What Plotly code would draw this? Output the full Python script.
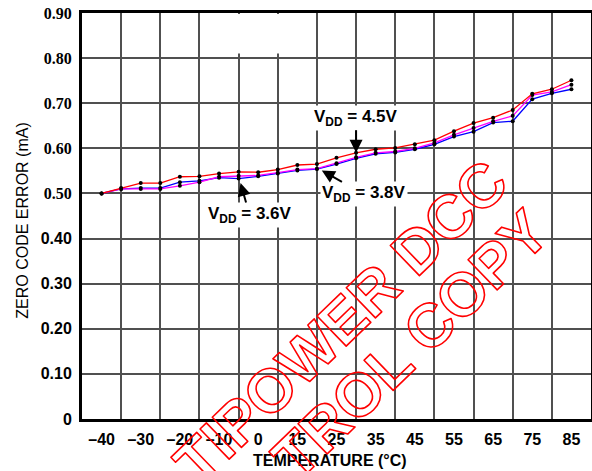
import plotly.graph_objects as go

# ---- data ----
TEMPS = ["-40", "-35", "-30", "-25", "-20", "-15", "-10", "-5", "0", "10", "15", "20",
         "25", "30", "35", "40", "45", "50", "55", "60", "65", "70", "75", "80", "85"]
TICK_LABELS = ["–40", "–30", "–20", "–10", "0", "15", "25", "35", "45", "55", "65", "75", "85"]
VDD_45 = [0.500, 0.512, 0.523, 0.523, 0.537, 0.538, 0.544, 0.548, 0.547, 0.553, 0.563, 0.565,
          0.579, 0.590, 0.598, 0.601, 0.609, 0.618, 0.638, 0.656, 0.668, 0.685, 0.721, 0.731, 0.751]
VDD_38 = [0.500, 0.510, 0.510, 0.510, 0.517, 0.525, 0.537, 0.539, 0.540, 0.546, 0.553, 0.555,
          0.567, 0.580, 0.590, 0.593, 0.600, 0.612, 0.630, 0.645, 0.660, 0.672, 0.718, 0.725, 0.741]
VDD_36 = [0.500, 0.510, 0.512, 0.512, 0.525, 0.528, 0.535, 0.533, 0.538, 0.544, 0.551, 0.554,
          0.565, 0.578, 0.588, 0.591, 0.598, 0.609, 0.626, 0.637, 0.657, 0.660, 0.709, 0.722, 0.731]
Y_TICKS = [0, 0.1, 0.2, 0.3, 0.4, 0.5, 0.6, 0.7, 0.8, 0.9]
Y_TICK_LABELS = ["0", "0.10", "0.20", "0.30", "0.40", "0.50", "0.60", "0.70", "0.80", "0.90"]

FONT = "Liberation Sans, Arial, sans-serif"
SERIF = "Liberation Serif"
GRID = "#505050"

x_pos = list(range(len(TEMPS)))  # category positions

fig = go.Figure()
for vals, col, name in [(VDD_36, "#0000FF", "VDD = 3.6V"),
                        (VDD_38, "#FF00FF", "VDD = 3.8V"),
                        (VDD_45, "#FF0000", "VDD = 4.5V")]:
    fig.add_trace(go.Scatter(
        x=x_pos, y=vals, mode="lines+markers", name=name,
        text=TEMPS, hovertemplate="%{text} °C: %{y:.3f} mA<extra>" + name + "</extra>",
        line=dict(color=col, width=1.3),
        marker=dict(color="black", size=4, symbol="circle"),
    ))

ytext = [("<span style=\"font-family:%s\">%s</span>" % (SERIF, t)) if v >= 0.45 else t
         for v, t in zip(Y_TICKS, Y_TICK_LABELS)]

fig.update_layout(
    width=592, height=471,
    margin=dict(l=82, r=1, t=13, b=52),
    paper_bgcolor="white", plot_bgcolor="white",
    showlegend=False,
    font=dict(family=FONT, color="black"),
    xaxis=dict(
        range=[-1, 25], showgrid=False, zeroline=False, automargin=False,
        tickmode="array", tickvals=x_pos[::2], ticktext=TICK_LABELS,
        tickfont=dict(size=16, family=FONT, weight="bold"),
        ticks="", ticklabelstandoff=4,
        showline=True, linecolor="black", linewidth=3, mirror=True,
        minor=dict(tickmode="array", tickvals=x_pos[1::2], showgrid=True,
                   gridcolor=GRID, gridwidth=1.5, ticks=""),
    ),
    yaxis=dict(
        range=[0, 0.9], tickmode="array", tickvals=Y_TICKS, ticktext=ytext,
        showgrid=True, gridcolor=GRID, gridwidth=1.5, zeroline=False, automargin=False,
        tickfont=dict(size=16, family=FONT, weight="bold"),
        ticks="", ticklabelstandoff=4,
        showline=True, linecolor="black", linewidth=3, mirror=True,
    ),
)

# blank patch at top (grid removed in reference)
fig.add_shape(type="rect", xref="x", yref="y", x0=5.9, x1=9.2, y0=0.81, y1=0.898,
              fillcolor="white", line=dict(width=0), layer="between")

arrow_common = dict(showarrow=True, arrowhead=2, arrowsize=1.3, arrowwidth=2,
                    arrowcolor="black", bgcolor="white",
                    font=dict(size=17, family=FONT, color="black"))
fig.add_annotation(x=13, y=VDD_45[13], ax=0, ay=-35,
                   text="<b>V<sub>DD</sub> = 4.5V</b>", **arrow_common)
fig.add_annotation(x=11.25, y=0.551, ax=42, ay=24,
                   text="<b>V<sub>DD</sub> = 3.8V</b>", **arrow_common)
fig.add_annotation(x=7.1, y=0.523, ax=9, ay=32,
                   text="<b>V<sub>DD</sub> = 3.6V</b>", **arrow_common)

# axis titles
fig.add_annotation(xref="paper", yref="paper", x=0.488, y=-0.103, showarrow=False,
                   text="<b>TEMPERATURE (°C)</b>", font=dict(size=16, family=FONT),
                   xanchor="center", yanchor="middle")
fig.add_annotation(xref="paper", yref="paper", x=-0.1165, y=0.4877, showarrow=False,
                   text="ZERO CODE ERROR (mA)", textangle=-90,
                   font=dict(size=16, family=FONT),
                   xanchor="center", yanchor="middle")

# watermark (outlined red text)
for txt, px, py in [("TIPOWER DCC", 0.509, 0.239), ("TROL COPY", 0.646, 0.185)]:
    fig.add_annotation(xref="paper", yref="paper", x=px, y=py, showarrow=False,
                       text="<b>" + txt + "</b>", textangle=-44,
                       font=dict(size=61, family=FONT, color="red"),
                       xanchor="center", yanchor="middle")

post = """
document.body.style.margin = '0';
document.body.style.padding = '0';
document.body.style.overflow = 'hidden';
var gd = document.getElementById('{plot_id}');
function outline(){
  gd.querySelectorAll('text.annotation-text').forEach(function(t){
    if (/POWER|COPY/.test(t.textContent)) {
      t.style.fill = 'none';
      t.style.stroke = '#ff0000';
      t.style.strokeWidth = '1.6px';
      t.style.strokeLinejoin = 'round';
    }
  });
}
outline();
gd.on('plotly_afterplot', outline);
setTimeout(outline, 50);
"""

fig.write_html("out.html", post_script=post, config={"displayModeBar": False})
